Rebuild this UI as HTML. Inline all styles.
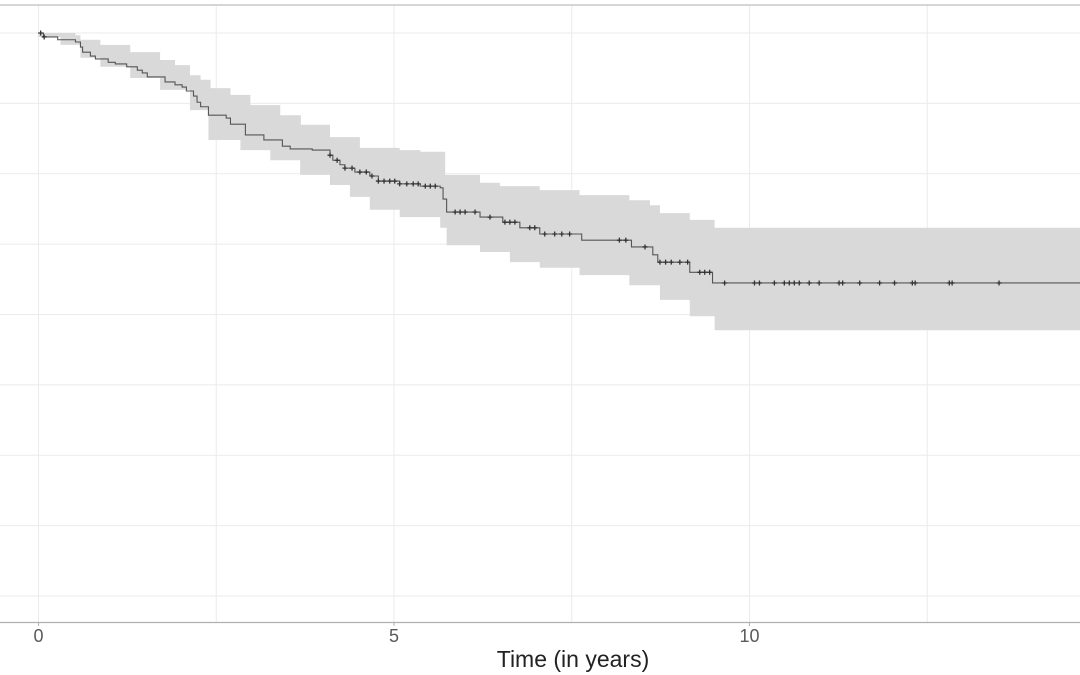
<!DOCTYPE html>
<html><head><meta charset="utf-8"><style>
html,body{margin:0;padding:0;background:#fff;width:1080px;height:675px;overflow:hidden}
svg{display:block;font-family:"Liberation Sans",sans-serif}
</style></head><body>
<svg id="chart" width="1080" height="675"></svg>
<script>
const stepTimes=[0,0.07,0.27,0.52,0.59,0.62,0.73,0.80,0.98,1.08,1.24,1.39,1.46,1.53,1.78,1.92,2.02,2.08,2.18,2.23,2.28,2.39,2.64,2.70,2.91,3.17,3.43,3.54,3.85,4.10,4.14,4.24,4.31,4.45,4.66,4.78,5.08,5.37,5.65,5.69,5.74,6.21,6.53,6.77,7.05,7.64,8.34,8.64,8.71,9.16,9.48];
const survival=[1,0.993,0.988,0.984,0.975,0.966,0.959,0.954,0.948,0.945,0.940,0.934,0.929,0.922,0.913,0.908,0.904,0.897,0.888,0.877,0.869,0.854,0.849,0.838,0.819,0.810,0.799,0.794,0.792,0.783,0.774,0.766,0.760,0.753,0.746,0.737,0.732,0.728,0.725,0.705,0.682,0.673,0.664,0.654,0.643,0.632,0.620,0.606,0.593,0.575,0.556];
const upperTimes=[0,0.52,0.59,0.87,1.29,1.71,1.92,2.13,2.28,2.42,2.70,2.98,3.40,3.69,4.10,4.52,5.08,5.37,5.72,6.21,6.49,7.05,7.61,8.31,8.60,8.74,9.16,9.51];
const upperCI=[1,0.996,0.988,0.979,0.966,0.952,0.943,0.925,0.917,0.902,0.890,0.872,0.854,0.837,0.815,0.796,0.792,0.789,0.748,0.734,0.728,0.721,0.712,0.703,0.694,0.680,0.668,0.654];
const lowerTimes=[0,0.31,0.59,0.87,1.29,1.71,2.13,2.39,2.84,3.26,3.68,4.10,4.38,4.66,5.08,5.65,5.74,6.21,6.63,7.05,7.61,8.31,8.74,9.16,9.51];
const lowerCI=[0.993,0.979,0.956,0.940,0.920,0.899,0.863,0.810,0.792,0.774,0.748,0.730,0.709,0.686,0.673,0.654,0.623,0.611,0.593,0.583,0.570,0.552,0.526,0.497,0.472];
const censorTimes=[0.03,0.08,4.10,4.20,4.31,4.41,4.52,4.61,4.69,4.78,4.86,4.94,5.01,5.08,5.18,5.27,5.34,5.44,5.51,5.58,5.86,5.93,6.00,6.14,6.35,6.56,6.63,6.70,6.91,6.98,7.12,7.26,7.36,7.47,8.17,8.26,8.53,8.74,8.82,8.90,9.02,9.13,9.30,9.37,9.44,9.65,10.07,10.14,10.35,10.49,10.56,10.63,10.70,10.84,10.98,11.26,11.31,11.55,11.83,12.04,12.29,12.33,12.81,12.85,13.51];
const xTicks=[0,5,10];
const tMax=14.63;

const NS="http://www.w3.org/2000/svg";
const svgEl=document.getElementById('chart');
const X=t=>38.5+t*71.1;
const Y=s=>33+(1-s)*563;
function mk(tag,attrs,parent){const e=document.createElementNS(NS,tag);for(const k in attrs)e.setAttribute(k,attrs[k]);(parent||svgEl).appendChild(e);return e;}
function stepAt(ts,vs,t){let v=vs[0];for(let i=0;i<ts.length;i++){if(ts[i]<=t)v=vs[i];}return v;}

const grid=mk('g',{});


for(let i=0;i<9;i++){const s=i*0.125;const l=mk('line',{x1:0,x2:1080,y1:Y(s),y2:Y(s),stroke:'#ebebeb','stroke-width':1},grid);

}
for(let t=0;t<=12.5;t+=2.5){const l=mk('line',{x1:X(t),x2:X(t),y1:5,y2:622,stroke:'#ebebeb','stroke-width':1},grid);

}

function stepPath(ts,vs,end){let p=[];for(let i=0;i<ts.length;i++){const x=X(ts[i]);if(i>0)p.push([x,Y(vs[i-1])]);p.push([x,Y(vs[i])]);}p.push([X(end),Y(vs[vs.length-1])]);return p;}
const upPts=stepPath(upperTimes,upperCI,tMax+1);
const loPts=stepPath(lowerTimes,lowerCI,tMax+1).reverse();
const band=mk('polygon',{points:upPts.concat(loPts).map(p=>p.join(',')).join(' '),fill:'#d9d9d9',stroke:'none'});



const cp=stepPath(stepTimes,survival,tMax+1);
const curve=mk('polyline',{points:cp.map(p=>p.join(',')).join(' '),fill:'none',stroke:'#555','stroke-width':1.1});



const cg=mk('g',{stroke:'#333','stroke-width':1.3});


censorTimes.forEach(t=>{const x=X(t),y=Y(stepAt(stepTimes,survival,t));
const m=mk('path',{d:`M${x-2.5},${y}H${x+2.5}M${x},${y-2.5}V${y+2.5}`},cg);

});

const topBorder=mk('line',{x1:0,x2:1080,y1:5,y2:5,stroke:'#c8c8c8','stroke-width':1.5});


const axLine=mk('line',{x1:0,x2:1080,y1:622.5,y2:622.5,stroke:'#b0b0b0','stroke-width':1.3});


xTicks.forEach(t=>{
const tk=mk('line',{x1:X(t),x2:X(t),y1:623,y2:626,stroke:'#b0b0b0'});


const tx=mk('text',{x:X(t),y:642,'text-anchor':'middle','font-size':18,fill:'#5a5a5a'});
tx.textContent=t;

});
const axTitle=mk('text',{x:573,y:667,'text-anchor':'middle','font-size':23,fill:'#222'});
axTitle.textContent='Time (in years)';


</script>
</body></html>
